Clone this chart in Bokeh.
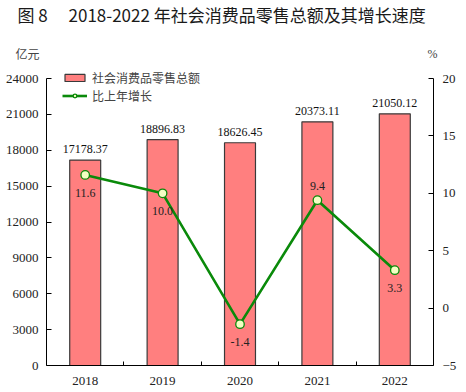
from bokeh.plotting import figure
from bokeh.models import (Range1d, LinearAxis, FixedTicker, ColumnDataSource,
                          LabelSet, Label, Legend, LegendItem)
from bokeh.embed import file_html
from bokeh.resources import INLINE

years = ["2018", "2019", "2020", "2021", "2022"]
sales = [17178.37, 18896.83, 18626.45, 20373.11, 21050.12]
growth = [11.6, 10.0, -1.4, 9.4, 3.3]
growth_side = ["below", "below", "below", "above", "below"]
left_ticks = [0, 3000, 6000, 9000, 12000, 15000, 18000, 21000, 24000]
right_ticks = [-5, 0, 5, 10, 15, 20]

xs = [i + 0.5 for i in range(len(years))]
SERIF = "Liberation Serif"
CJK = "Noto Sans CJK SC"

W, H = 466, 392
FL, FR, FT, FB = 46, 433, 60, 365       # frame edges (px)
AX_TOP = 78                              # pixel of axis top (24000 / 20)
ypx = 24000.0 / (FB - AX_TOP)           # data units per px, left axis
ppx = 25.0 / (FB - AX_TOP)              # data units per px, right axis
xpx = len(years) / float(FR - FL)

p = figure(width=W, height=H, output_backend="svg", toolbar_location=None,
           x_range=Range1d(0, len(years)),
           y_range=Range1d(0, 24000 + (AX_TOP - FT) * ypx),
           min_border_left=FL, min_border_right=W - FR, min_border_top=FT,
           min_border_bottom=H - FB)
p.extra_y_ranges = {"pct": Range1d(-5, 20 + (AX_TOP - FT) * ppx)}
p.outline_line_color = None
p.xgrid.visible = False
p.ygrid.visible = False
p.background_fill_color = "white"
p.border_fill_color = "white"

src = ColumnDataSource(dict(
    x=xs, sales=sales, growth=growth,
    slabel=["%.2f" % v for v in sales],
    glabel=["%.1f" % v for v in growth],
    gy_below=[g if s == "below" else float("nan") for g, s in zip(growth, growth_side)],
    gy_above=[g if s == "above" else float("nan") for g, s in zip(growth, growth_side)],
))

bars = p.vbar(x="x", top="sales", width=0.4, source=src,
              fill_color="#FF7F7F", line_color="#3A3A3A", line_width=1.2)
line = p.line(x="x", y="growth", source=src, y_range_name="pct",
              line_color="#0A8A0A", line_width=2.6)
dots = p.scatter(x="x", y="growth", source=src, y_range_name="pct", size=8.5,
                 fill_color="#F4FFC4", line_color="#0A8A0A", line_width=1.3)

# axes
xa = p.xaxis[0]
xa.ticker = FixedTicker(ticks=xs, minor_ticks=[1, 2, 3, 4])
xa.major_label_overrides = {x: y for x, y in zip(xs, years)}
xa.major_tick_line_color = None
xa.minor_tick_in = 4
xa.minor_tick_out = 0
xa.minor_tick_line_color = "black"
xa.axis_line_color = "black"
xa.major_label_text_font = SERIF
xa.major_label_text_font_size = "13px"
xa.major_label_text_color = "#222222"
xa.major_label_standoff = 5

ya = p.yaxis[0]
ya.ticker = FixedTicker(ticks=left_ticks)
ya.bounds = (0, 24000)
ya.major_tick_in = 5
ya.major_tick_out = 0
ya.minor_tick_line_color = None
ya.axis_line_color = "black"
ya.major_tick_line_color = "black"
ya.major_label_text_font = SERIF
ya.major_label_text_font_size = "13px"
ya.major_label_text_color = "#222222"
ya.major_label_standoff = 8

ra = LinearAxis(y_range_name="pct", ticker=FixedTicker(ticks=right_ticks), bounds=(-5, 20))
ra.major_tick_in = 5
ra.major_tick_out = 0
ra.minor_tick_line_color = None
ra.axis_line_color = "black"
ra.major_tick_line_color = "black"
ra.major_label_text_font = SERIF
ra.major_label_text_font_size = "13px"
ra.major_label_text_color = "#222222"
ra.major_label_standoff = 9
p.add_layout(ra, "right")

# value labels
p.add_layout(LabelSet(x="x", y="sales", text="slabel", source=src, y_offset=11,
                      text_align="center", text_baseline="middle",
                      text_font=SERIF, text_font_size="12px", text_color="#111111"))
p.add_layout(LabelSet(x="x", y="gy_below", text="glabel", source=src, y_range_name="pct",
                      y_offset=-18, text_align="center", text_baseline="middle",
                      text_font=SERIF, text_font_size="12px", text_color="#222222"))
p.add_layout(LabelSet(x="x", y="gy_above", text="glabel", source=src, y_range_name="pct",
                      y_offset=14, text_align="center", text_baseline="middle",
                      text_font=SERIF, text_font_size="12px", text_color="#222222"))

# title / units, in the top panel (positions via the frame's data scales)
def ypos(px):
    return 24000 + (AX_TOP - px) * ypx

p.add_layout(Label(x=(17 - FL) * xpx, y=ypos(14),
                   text="图 8\u3000 2018-2022 年社会消费品零售总额及其增长速度",
                   text_font=CJK, text_font_size="17px", text_color="#1A1A1A",
                   text_baseline="middle", text_align="left"), "above")
p.add_layout(Label(x=(15 - FL) * xpx, y=ypos(53), text="亿元",
                   text_font=CJK, text_font_size="12px", text_color="#444444",
                   text_baseline="middle", text_align="left"), "above")
p.add_layout(Label(x=(432 - FL) * xpx, y=ypos(53), text="%",
                   text_font=SERIF, text_font_size="12px", text_color="#444444",
                   text_baseline="middle", text_align="center"), "above")

legend = Legend(items=[LegendItem(label="社会消费品零售总额", renderers=[bars]),
                       LegendItem(label="比上年增长", renderers=[line, dots])],
                location=(16, FB - 104), orientation="vertical",
                label_text_font=CJK, label_text_font_size="12px",
                label_text_color="#444444", glyph_width=25, glyph_height=9,
                label_height=18, label_standoff=5, padding=0, margin=0, spacing=0,
                background_fill_alpha=0, border_line_color=None)
p.add_layout(legend)

open("out.html", "w").write(file_html(p, INLINE))
